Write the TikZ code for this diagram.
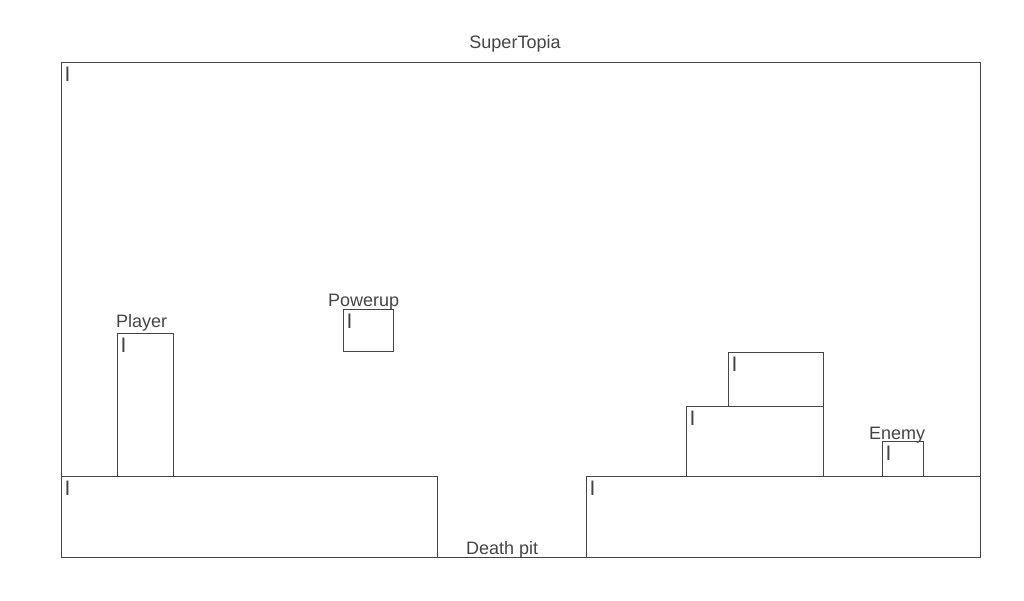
\documentclass[tikz,border=0pt]{standalone}
\usepackage{fontspec}
\setmainfont{Liberation Sans}
\definecolor{ink}{HTML}{444444}
\begin{document}
\begin{tikzpicture}[x=1pt,y=-1pt,
  box/.style={draw=ink,line width=0.9pt},
  lbl/.style={inner sep=0pt,text=ink,font=\fontsize{18}{22}\selectfont},
  cursor/.style={inner sep=0pt,text=ink,anchor=base west,font=\fontsize{21}{24}\selectfont}]
\useasboundingbox (0,0) rectangle (1024,600);
% outer frame
\draw[box] (61,62) rectangle (980,557);
\node[cursor] (c0) at (64.5,81) {I};
\node[lbl,anchor=base] (title) at (515,48) {SuperTopia};
% ground
\draw[box] (61,476) rectangle (437,557);
\node[cursor] (c1) at (64.5,495) {I};
\draw[box] (586,476) rectangle (980,557);
\node[cursor] (c2) at (589.5,495) {I};
\node[lbl,anchor=base west] (pit) at (466,554) {Death pit};
% player
\draw[box] (117,333) rectangle (173,476);
\node[cursor] (c3) at (120.5,352) {I};
\node[lbl,anchor=base west] (player) at (116,327) {Player};
% powerup
\draw[box] (343,309) rectangle (393,351);
\node[cursor] (c4) at (346.5,328) {I};
\node[lbl,anchor=base west] (powerup) at (328,306) {Powerup};
% blocks
\draw[box] (728,352) rectangle (823,406);
\node[cursor] (c5) at (731.5,371) {I};
\draw[box] (686,406) rectangle (823,476);
\node[cursor] (c6) at (689.5,425) {I};
% enemy
\draw[box] (882,441) rectangle (923,476);
\node[cursor] (c7) at (885.5,460) {I};
\node[lbl,anchor=base west] (enemy) at (869,439) {Enemy};
\end{tikzpicture}
\end{document}
